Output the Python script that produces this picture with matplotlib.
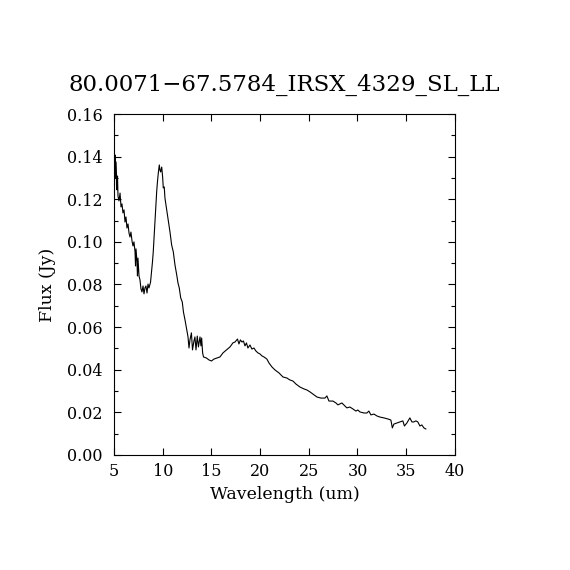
import matplotlib
matplotlib.use("Agg")
import matplotlib.pyplot as plt
from matplotlib.ticker import MultipleLocator, FormatStrFormatter

title = "80.0071\u221267.5784_IRSX_4329_SL_LL"
xlabel = "Wavelength (um)"
ylabel = "Flux (Jy)"

wavelength = [
    5.00, 5.05, 5.10, 5.15, 5.21, 5.31, 5.36, 5.41, 5.51, 5.62, 5.72, 5.82, 5.92, 6.03,
    6.13, 6.23, 6.33, 6.44, 6.54, 6.64, 6.74, 6.85, 6.95, 7.05, 7.16, 7.21, 7.26, 7.36,
    7.41, 7.46, 7.57, 7.67, 7.77, 7.87, 7.98, 8.08, 8.18, 8.28, 8.39, 8.49,
    8.59, 8.75, 8.87, 8.95, 9.03, 9.11, 9.21, 9.31, 9.38, 9.46, 9.55, 9.65, 9.72, 9.79,
    9.90, 10.00, 10.06, 10.16, 10.23, 10.41, 10.57, 10.75, 10.92, 11.09, 11.26, 11.44,
    11.57, 11.70, 11.85, 12.01, 12.13, 12.29, 12.44, 12.60, 12.70, 12.80, 12.95,
    13.06, 13.21, 13.31, 13.42, 13.55, 13.67, 13.83, 13.93, 14.00, 14.10, 14.19, 14.49,
    14.75, 15.01, 15.26, 15.57, 15.88, 16.19, 16.55, 16.91, 17.21, 17.42, 17.68, 17.83,
    17.98, 18.14, 18.29, 18.45, 18.60, 18.75, 18.96, 19.16, 19.37, 19.57, 19.78, 19.99,
    20.19, 20.40, 20.70, 20.91, 21.22, 21.53, 21.94, 22.35, 22.76, 23.06, 23.37, 23.68,
    24.09, 24.50, 24.81, 25.12, 25.53, 25.84, 26.25, 26.66, 26.86, 27.07, 27.48, 27.79,
    27.99, 28.40, 28.71, 28.91, 29.22, 29.53, 29.84, 30.04, 30.25, 30.66, 30.97, 31.17,
    31.38, 31.69, 32.00, 32.30, 32.71, 33.12, 33.43, 33.58, 33.74, 34.05, 34.35, 34.66,
    34.82, 35.07, 35.38, 35.59, 35.79, 36.00, 36.20, 36.41, 36.61, 36.82, 37.02,
]

flux = [
    0.1445, 0.1267, 0.1408, 0.1300, 0.1375, 0.1244, 0.1309, 0.1215, 0.1192, 0.1229, 0.1164,
    0.1178, 0.1136, 0.1150, 0.1093, 0.1117, 0.1065, 0.1084, 0.1042, 0.1023, 0.1046, 0.1004,
    0.0981, 0.1000, 0.0953, 0.0887, 0.0967, 0.0906, 0.0840, 0.0924, 0.0840, 0.0821, 0.0779,
    0.0765, 0.0793, 0.0756, 0.0784, 0.0793, 0.0760, 0.0802,
    0.0784, 0.0810, 0.0868, 0.0906, 0.0953, 0.1018, 0.1093, 0.1173, 0.1234, 0.1281, 0.1323,
    0.1361, 0.1337, 0.1328, 0.1351, 0.1300, 0.1253, 0.1258, 0.1206, 0.1150, 0.1103, 0.1046,
    0.0985, 0.0953, 0.0892, 0.0845, 0.0807, 0.0784, 0.0737, 0.0718, 0.0671, 0.0634, 0.0596,
    0.0554, 0.0502, 0.0540, 0.0573, 0.0493, 0.0535, 0.0554, 0.0493, 0.0558, 0.0507, 0.0554,
    0.0512, 0.0549, 0.0479, 0.0460, 0.0455, 0.0446, 0.0441, 0.0450, 0.0455, 0.0460, 0.0479,
    0.0493, 0.0507, 0.0526, 0.0530, 0.0544, 0.0521, 0.0540, 0.0530, 0.0535, 0.0512, 0.0526,
    0.0502, 0.0516, 0.0497, 0.0502, 0.0488, 0.0479, 0.0474, 0.0465, 0.0460, 0.0450, 0.0432,
    0.0413, 0.0399, 0.0385, 0.0366, 0.0361, 0.0352, 0.0347, 0.0333, 0.0319, 0.0310, 0.0305,
    0.0296, 0.0282, 0.0272, 0.0267, 0.0267, 0.0277, 0.0253, 0.0253, 0.0244, 0.0235, 0.0244,
    0.0230, 0.0221, 0.0225, 0.0216, 0.0206, 0.0211, 0.0202, 0.0197, 0.0197, 0.0206, 0.0188,
    0.0192, 0.0183, 0.0178, 0.0174, 0.0169, 0.0164, 0.0127, 0.0145, 0.0150, 0.0155, 0.0160,
    0.0136, 0.0150, 0.0174, 0.0155, 0.0155, 0.0160, 0.0155, 0.0136, 0.0141, 0.0127, 0.0122,
]

xlim = (5, 40)
ylim = (0.0, 0.16)

plt.rcParams['font.family'] = ['DejaVu Serif']

fig = plt.figure(figsize=(5.7, 5.7), dpi=100)
ax = fig.add_axes([0.2, 0.2018, 0.598, 0.5982])
ax.plot(wavelength, flux, color='black', linewidth=0.8)
ax.set_xlim(*xlim)
ax.set_ylim(*ylim)
ax.xaxis.set_major_locator(MultipleLocator(5))
ax.yaxis.set_major_locator(MultipleLocator(0.02))
ax.yaxis.set_minor_locator(MultipleLocator(0.01))
ax.yaxis.set_major_formatter(FormatStrFormatter('%.2f'))
ax.tick_params(which='both', direction='in', top=True, right=True, labelsize=11.5, width=0.8)
ax.tick_params(which='major', length=5)
ax.tick_params(which='minor', length=3)
ax.tick_params(axis='y', which='major', pad=8)
ax.tick_params(axis='x', which='major', pad=6)
for s in ax.spines.values():
    s.set_linewidth(0.8)
ax.set_xlabel(xlabel, fontsize=12.5, labelpad=4)
ax.set_ylabel(ylabel, fontsize=12.5, labelpad=8)
ax.set_title(title, fontsize=16.5, pad=17)
fig.savefig("out.png", dpi=100)
